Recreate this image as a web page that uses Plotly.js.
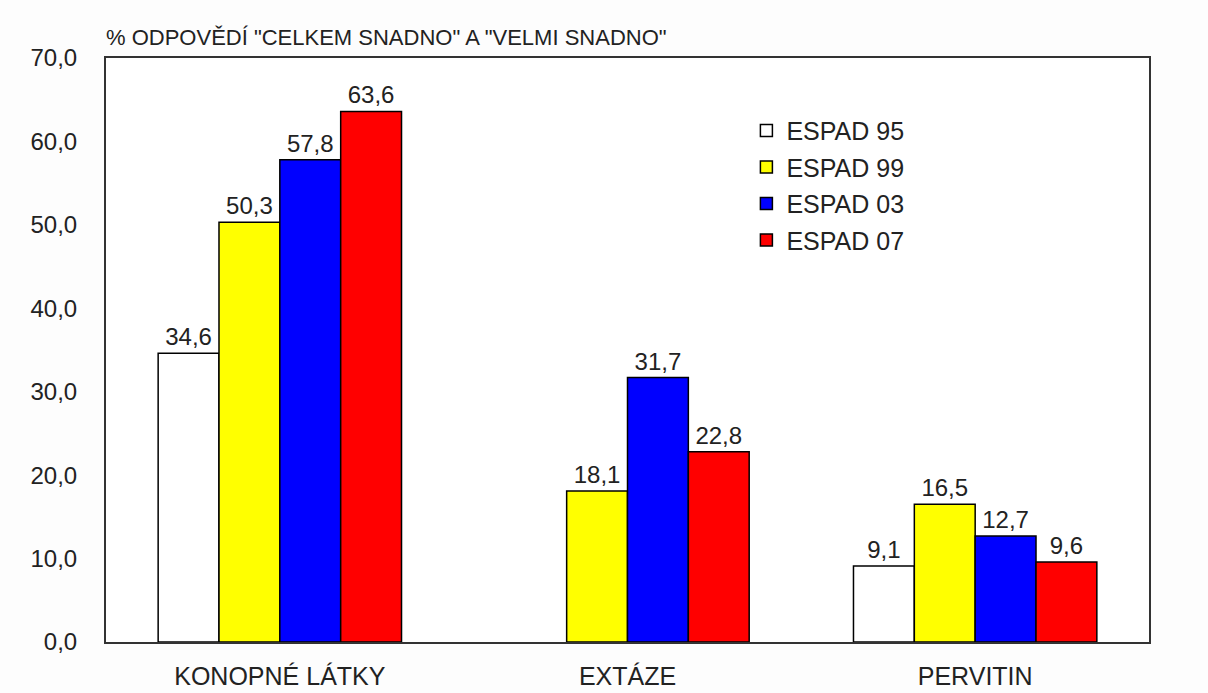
<!DOCTYPE html>
<html>
<head>
<meta charset="utf-8">
<script src="https://cdn.plot.ly/plotly-3.0.1.min.js"></script>
<style>html,body{margin:0;padding:0;background:#fdfdfd;}#chart{width:1208px;height:693px;}</style>
</head>
<body>
<div id="chart"></div>
<script>
const categories = ["KONOPNÉ LÁTKY", "EXTÁZE", "PERVITIN"];
const seriesNames = ["ESPAD 95", "ESPAD 99", "ESPAD 03", "ESPAD 07"];
const espad95 = [34.6, null, 9.1];
const espad99 = [50.3, 18.1, 16.5];
const espad03 = [57.8, 31.7, 12.7];
const espad07 = [63.6, 22.8, 9.6];
const yTicks = [0, 10, 20, 30, 40, 50, 60, 70];
const chartTitle = '% ODPOVĚDÍ "CELKEM SNADNO" A "VELMI SNADNO"';

const colors = ["#ffffff", "#ffff00", "#0000ff", "#ff0000"];
const seriesValues = [espad95, espad99, espad03, espad07];
const fontFam = "Liberation Sans, Arial, sans-serif";

const traces = seriesValues.map((vals, i) => ({
  type: "bar",
  name: seriesNames[i],
  legendgroup: "g" + i,
  x: categories,
  y: vals,
  marker: { color: colors[i], line: { color: "#000000", width: 1.5 } },
  text: vals.map(v => v == null ? "" : v.toFixed(1).replace(".", ",")),
  textposition: "outside",
  cliponaxis: false,
  textfont: { family: fontFam, size: 24, color: "#222222" },
  hoverinfo: "skip"
}));

const layout = {
  width: 1208, height: 693,
  margin: { l: 106, r: 59, t: 58, b: 51 },
  paper_bgcolor: "#fdfdfd",
  plot_bgcolor: "#ffffff",
  separators: ",.",
  barmode: "group",
  bargap: 0.3,
  bargroupgap: 0,
  font: { family: fontFam, color: "#222222" },
  title: {
    text: chartTitle,
    font: { family: fontFam, size: 22, color: "#222222" },
    xref: "paper", x: 0, xanchor: "left",
    yref: "container", y: 0.946, yanchor: "middle"
  },
  xaxis: {
    type: "category",
    range: [-0.5, 2.5],
    showline: true, linecolor: "#333333", linewidth: 2, mirror: true,
    ticks: "", showgrid: false,
    tickfont: { family: fontFam, size: 25, color: "#222222" },
    ticklabelstandoff: 11,
    fixedrange: true
  },
  yaxis: {
    range: [0, 70],
    tickvals: yTicks,
    tickformat: ".1f",
    showline: true, linecolor: "#333333", linewidth: 2, mirror: true,
    ticks: "outside", ticklen: 22, tickcolor: "rgba(0,0,0,0)",
    showgrid: false, zeroline: false,
    tickfont: { family: fontFam, size: 24, color: "#222222" },
    fixedrange: true
  },
  showlegend: true,
  legend: {
    x: 0.614, y: 0.915, xanchor: "left", yanchor: "top",
    bgcolor: "rgba(0,0,0,0)",
    font: { family: fontFam, size: 25, color: "#222222" },
    itemwidth: 30,
    traceorder: "grouped",
    tracegroupgap: 1
  }
};

Plotly.newPlot("chart", traces, layout, { staticPlot: true, displayModeBar: false });
</script>
</body>
</html>
